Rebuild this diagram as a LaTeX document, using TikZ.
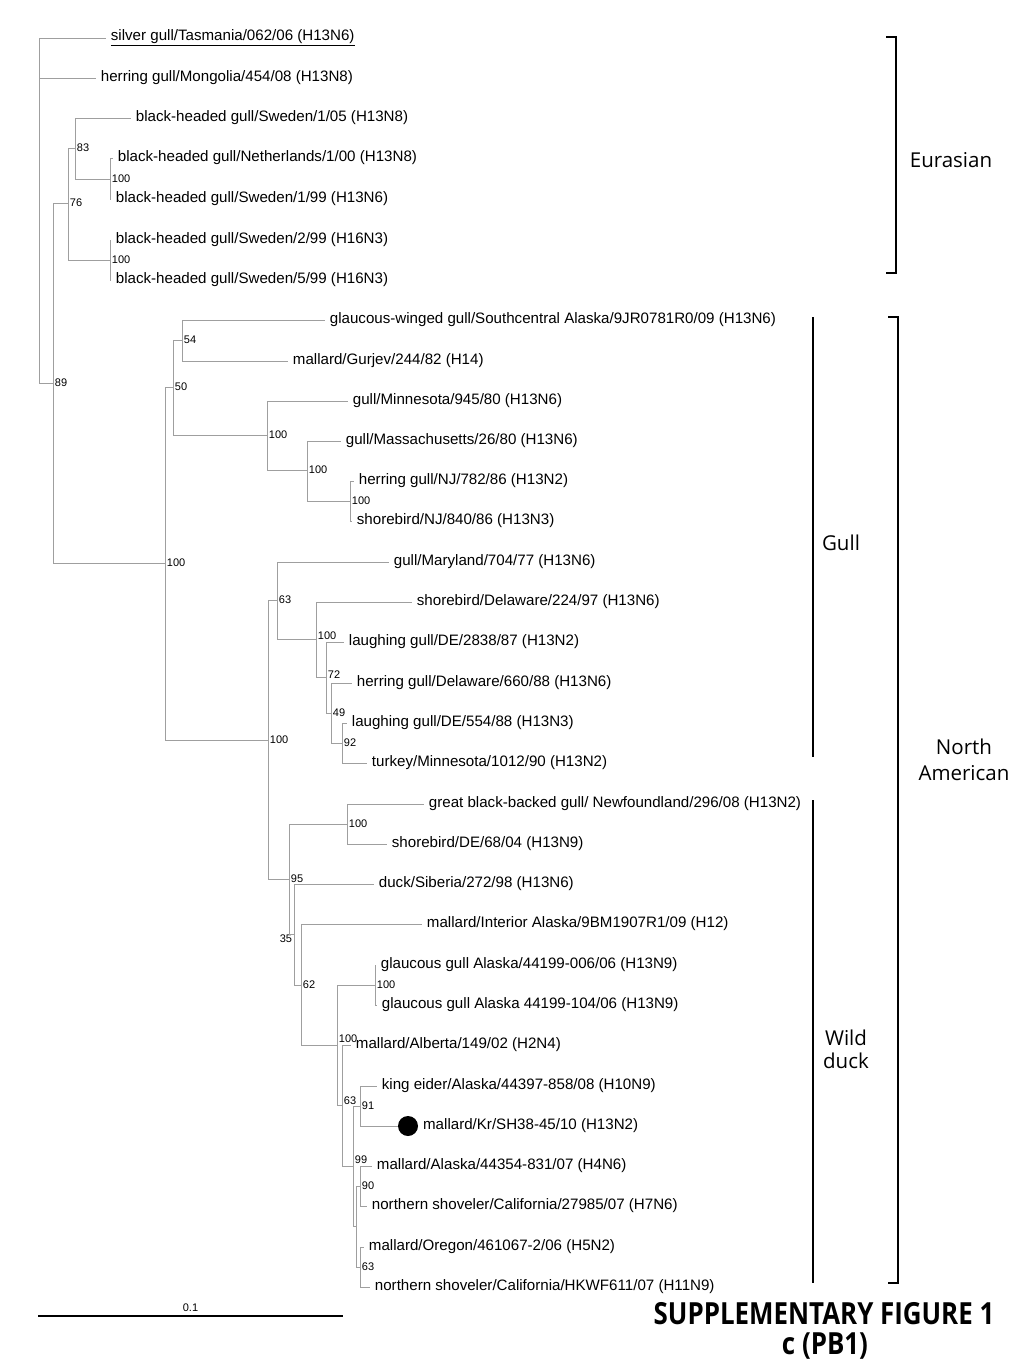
\documentclass[tikz,border=0pt]{standalone}
\usepackage{graphicx}
\usepackage{fontspec}
\setmainfont{Liberation Sans}
\newfontfamily\cladefont{Open Sans}
\usetikzlibrary{positioning}

\begin{document}
\begin{tikzpicture}[x=0.03cm, y=-0.03cm,
        tip/.style = {anchor=west, inner sep=4pt, font=\fontsize{12.9}{14}\selectfont},
        boot/.style = {inner sep=1.5pt, font=\fontsize{9.4}{10}\selectfont},
        branch/.style = {draw=gray!75, line width=0.7pt},
        clade/.style = {draw, line width=1.2pt},
        cladename/.style = {align=center, font=\cladefont\fontsize{17.5}{22}\selectfont},
        kdot/.style = {circle, fill=black, inner sep=0pt, minimum size=0.6cm}]
                \useasboundingbox (0,0) rectangle (1024,1365);

                % inner nodes of the tree
                \coordinate (k0) at (39,210);
                \coordinate[label={[boot]0:89}] (k1) at (53,383);
                \coordinate[label={[boot]0:76}] (k2) at (68,203);
                \coordinate[label={[boot]0:83}] (k3) at (75,148);
                \coordinate[label={[boot]0:100}] (k4) at (110,179);
                \coordinate[label={[boot]0:100}] (k5) at (110,260);
                \coordinate[label={[boot]0:100}] (k6) at (165,563);
                \coordinate[label={[boot]0:50}] (k7) at (173,387);
                \coordinate[label={[boot]0:54}] (k8) at (182,340);
                \coordinate[label={[boot]0:100}] (k9) at (267,435);
                \coordinate[label={[boot]0:100}] (k10) at (307,470);
                \coordinate[label={[boot]0:100}] (k11) at (350,501);
                \coordinate[label={[boot]0:100}] (k12) at (268,740);
                \coordinate[label={[boot]0:63}] (k13) at (277,600);
                \coordinate[label={[boot, yshift=3pt]0:100}] (k14) at (316,639);
                \coordinate[label={[boot, yshift=2pt]0:72}] (k15) at (326,677);
                \coordinate[label={[boot]0:49}] (k16) at (331,713);
                \coordinate[label={[boot]0:92}] (k17) at (342,743);
                \coordinate[label={[boot]0:95}] (k18) at (289,879);
                \coordinate[label={[boot]0:100}] (k19) at (347,824);
                \coordinate[label={[boot, yshift=-4pt]180:35}] (k20) at (294,934);
                \coordinate[label={[boot]0:62}] (k21) at (301,985);
                \coordinate[label={[boot, yshift=5pt]0:100}] (k22) at (337,1045);
                \coordinate[label={[boot]0:100}] (k23) at (375,985);
                \coordinate[label={[boot, yshift=4pt]0:63}] (k24) at (342,1105);
                \coordinate[label={[boot, yshift=5pt]0:99}] (k25) at (353,1166);
                \coordinate[label={[boot]0:91}] (k26) at (360,1106);
                \coordinate (k27) at (356,1226);
                \coordinate[label={[boot]0:90}] (k28) at (360,1186);
                \coordinate[label={[boot]0:63}] (k29) at (360,1267);

                % taxa
                \node[tip] at (106,38) (tip1) {\underline{silver gull/Tasmania/062/06 (H13N6)}};
                \node[tip] at (96,78) (tip2) {herring gull/Mongolia/454/08 (H13N8)};
                \node[tip] at (131,118) (tip3) {black-headed gull/Sweden/1/05 (H13N8)};
                \node[tip] at (113,158) (tip4) {black-headed gull/Netherlands/1/00 (H13N8)};
                \node[tip] at (111,199) (tip5) {black-headed gull/Sweden/1/99 (H13N6)};
                \node[tip] at (111,240) (tip6) {black-headed gull/Sweden/2/99 (H16N3)};
                \node[tip] at (111,280) (tip7) {black-headed gull/Sweden/5/99 (H16N3)};
                \node[tip] at (325,320) (tip8) {glaucous-winged gull/Southcentral Alaska/9JR0781R0/09 (H13N6)};
                \node[tip] at (288,361) (tip9) {mallard/Gurjev/244/82 (H14)};
                \node[tip] at (348,401) (tip10) {gull/Minnesota/945/80 (H13N6)};
                \node[tip] at (341,441) (tip11) {gull/Massachusetts/26/80 (H13N6)};
                \node[tip] at (354,481) (tip12) {herring gull/NJ/782/86 (H13N2)};
                \node[tip] at (352,521) (tip13) {shorebird/NJ/840/86 (H13N3)};
                \node[tip] at (389,562) (tip14) {gull/Maryland/704/77 (H13N6)};
                \node[tip] at (412,602) (tip15) {shorebird/Delaware/224/97 (H13N6)};
                \node[tip] at (344,642) (tip16) {laughing gull/DE/2838/87 (H13N2)};
                \node[tip] at (352,683) (tip17) {herring gull/Delaware/660/88 (H13N6)};
                \node[tip] at (347,723) (tip18) {laughing gull/DE/554/88 (H13N3)};
                \node[tip] at (367,763) (tip19) {turkey/Minnesota/1012/90 (H13N2)};
                \node[tip] at (424,804) (tip20) {great black-backed gull/ Newfoundland/296/08 (H13N2)};
                \node[tip] at (387,844) (tip21) {shorebird/DE/68/04 (H13N9)};
                \node[tip] at (374,884) (tip22) {duck/Siberia/272/98 (H13N6)};
                \node[tip] at (422,924) (tip23) {mallard/Interior Alaska/9BM1907R1/09 (H12)};
                \node[tip] at (376,965) (tip24) {glaucous gull Alaska/44199-006/06 (H13N9)};
                \node[tip] at (377,1005) (tip25) {glaucous gull Alaska 44199-104/06 (H13N9)};
                \node[tip] at (351,1045) (tip26) {mallard/Alberta/149/02 (H2N4)};
                \node[tip] at (377,1086) (tip27) {king eider/Alaska/44397-858/08 (H10N9)};
                \node[kdot] at (408,1126) (krdot) {};
                \node[tip] at (krdot.east) (tip28) {mallard/Kr/SH38-45/10 (H13N2)};
                \node[tip] at (372,1166) (tip29) {mallard/Alaska/44354-831/07 (H4N6)};
                \node[tip] at (367,1206) (tip30) {northern shoveler/California/27985/07 (H7N6)};
                \node[tip] at (364,1247) (tip31) {mallard/Oregon/461067-2/06 (H5N2)};
                \node[tip] at (370,1287) (tip32) {northern shoveler/California/HKWF611/07 (H11N9)};

                % branches
                \draw[branch] (k0) |- (tip1.west) (k0) |- (tip2.west) (k0) |- (k1);
                \draw[branch] (k1) |- (k2) (k1) |- (k6);
                \draw[branch] (k2) |- (k3) (k2) |- (k5);
                \draw[branch] (k3) |- (tip3.west) (k3) |- (k4);
                \draw[branch] (k4) |- (tip4.west) (k4) |- (tip5.west);
                \draw[branch] (k5) |- (tip6.west) (k5) |- (tip7.west);
                \draw[branch] (k6) |- (k7) (k6) |- (k12);
                \draw[branch] (k7) |- (k8) (k7) |- (k9);
                \draw[branch] (k8) |- (tip8.west) (k8) |- (tip9.west);
                \draw[branch] (k9) |- (tip10.west) (k9) |- (k10);
                \draw[branch] (k10) |- (tip11.west) (k10) |- (k11);
                \draw[branch] (k11) |- (tip12.west) (k11) |- (tip13.west);
                \draw[branch] (k12) |- (k13) (k12) |- (k18);
                \draw[branch] (k13) |- (tip14.west) (k13) |- (k14);
                \draw[branch] (k14) |- (tip15.west) (k14) |- (k15);
                \draw[branch] (k15) |- (tip16.west) (k15) |- (k16);
                \draw[branch] (k16) |- (tip17.west) (k16) |- (k17);
                \draw[branch] (k17) |- (tip18.west) (k17) |- (tip19.west);
                \draw[branch] (k18) |- (k19) (k18) |- (k20);
                \draw[branch] (k19) |- (tip20.west) (k19) |- (tip21.west);
                \draw[branch] (k20) |- (tip22.west) (k20) |- (k21);
                \draw[branch] (k21) |- (tip23.west) (k21) |- (k22);
                \draw[branch] (k22) |- (k23) (k22) |- (k24);
                \draw[branch] (k23) |- (tip24.west) (k23) |- (tip25.west);
                \draw[branch] (k24) |- (tip26.west) (k24) |- (k25);
                \draw[branch] (k25) |- (k26) (k25) |- (k27);
                \draw[branch] (k26) |- (tip27.west) (k26) |- (krdot.west);
                \draw[branch] (k27) |- (k28) (k27) |- (k29);
                \draw[branch] (k28) |- (tip29.west) (k28) |- (tip30.west);
                \draw[branch] (k29) |- (tip31.west) (k29) |- (tip32.west);

                % clade brackets
                \draw[clade] (886,37) -- (896,37) -- (896,273) -- (886,273);
                \node[cladename] at (951,160) (eurasian) {Eurasian};
                \draw[clade] (888,317) -- (898,317) -- (898,1283) -- (888,1283);
                \node[cladename] at (964,760) (namerican) {North\\American};
                \draw[clade] (813,317) -- (813,757);
                \node[cladename] at (841,543) (gull) {Gull};
                \draw[clade] (813,800) -- (813,1283);
                \node[cladename, font=\cladefont\fontsize{17.5}{19.5}\selectfont] at (846,1049) (wildduck) {Wild\\duck};

                % scale bar
                \coordinate (sbleft) at (38,1316);
                \coordinate (sbright) at (343,1316);
                \draw[line width=1.8pt] (sbleft) -- (sbright) node [midway, above, boot, yshift=1pt] (sbtext) {0.1};

                % caption
                \node[font=\cladefont\bfseries\fontsize{26}{30}\selectfont] at (824,1314) (caption1) {\scalebox{0.85}[1]{SUPPLEMENTARY FIGURE 1}};
                \node[font=\cladefont\bfseries\fontsize{26}{30}\selectfont] at (825,1346) (caption2) {\scalebox{0.85}[1]{c (PB1)}};
            \end{tikzpicture}
\end{document}
